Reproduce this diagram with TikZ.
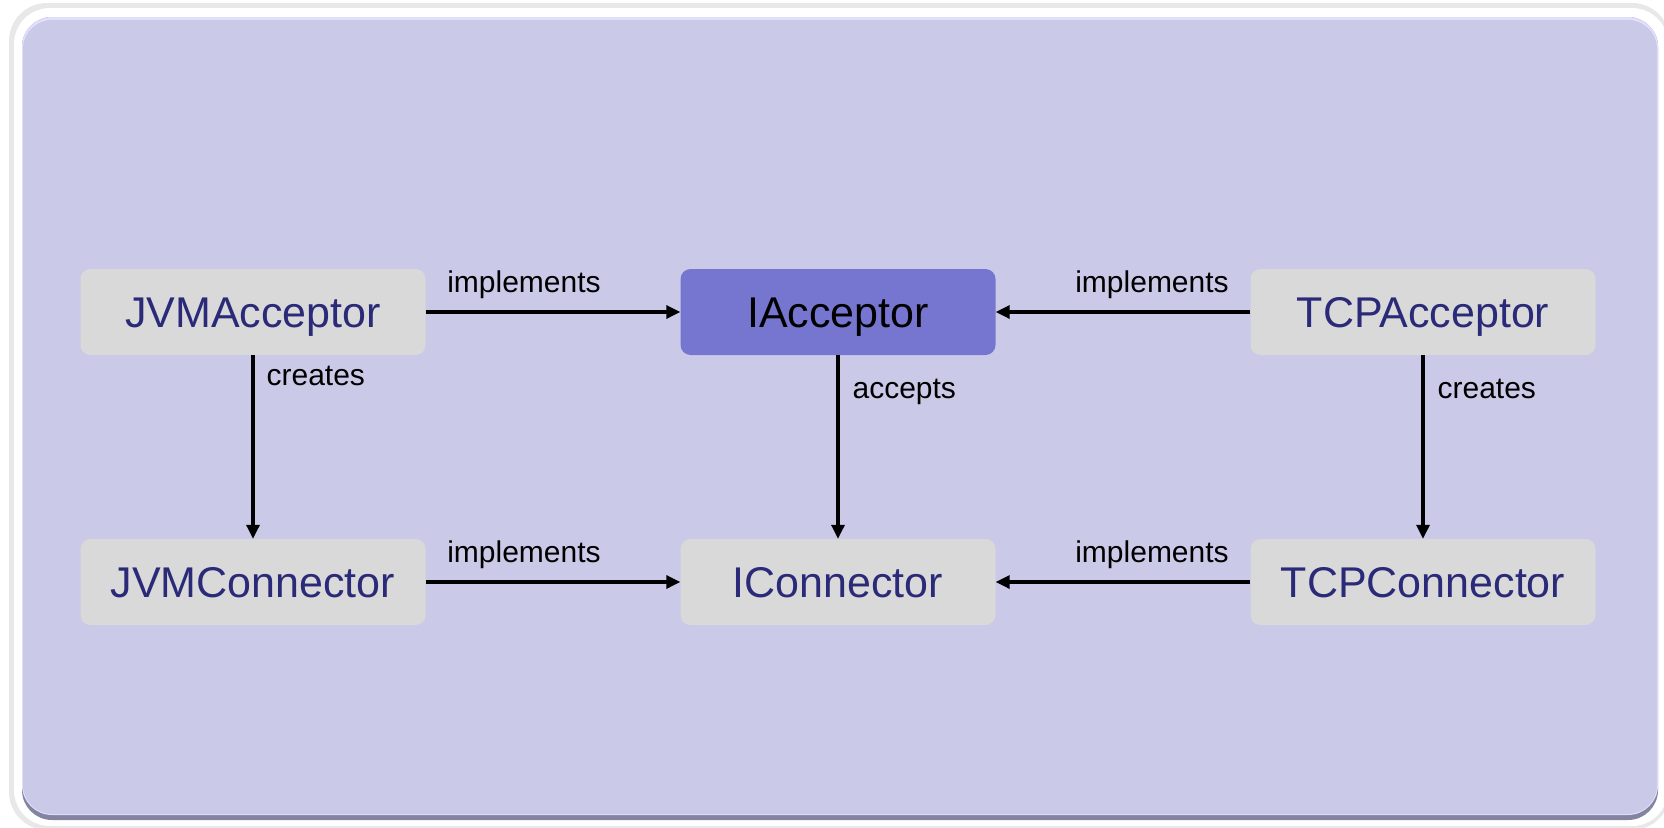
\documentclass[tikz,border=0pt]{standalone}
\usepackage{fontspec}
\setmainfont{Liberation Sans}
\usepackage{tikz}
\usetikzlibrary{arrows.meta}

\definecolor{panelfill}{RGB}{202,202,232}
\definecolor{paneldark}{RGB}{132,132,162}
\definecolor{panellight}{RGB}{224,224,250}
\definecolor{boxfill}{RGB}{217,217,217}
\definecolor{ifill}{RGB}{118,118,208}
\definecolor{boxtext}{RGB}{42,42,120}

\tikzset{
	classbox/.style={fill=boxfill, rounded corners=10pt, minimum width=345pt, minimum height=86pt, inner sep=0pt, text height=31pt, text depth=0pt, text=boxtext, font=\fontsize{43}{50}\selectfont},
	ibox/.style={classbox, minimum width=315pt},
	arr/.style={-{Triangle[length=14pt,width=13pt]}, line width=3.2pt},
	lbl/.style={inner sep=0pt, font=\fontsize{30}{36}\selectfont}
}

\begin{document}
\begin{tikzpicture}[x=1pt,y=-1pt]
		\useasboundingbox (0,0) rectangle (1664,827);
		% frame
		\fill[gray!18, rounded corners=38pt] (9,3) rectangle (1670,830);
		\fill[white, rounded corners=36pt] (14,8) rectangle (1668,826);
		\fill[paneldark, rounded corners=30pt] (22,17) rectangle (1658,820);
		\fill[panellight, rounded corners=30pt] (22,17) rectangle (1658,815);
		\fill[panelfill, rounded corners=29pt] (23,20) rectangle (1657,814);
		
		% classes
		\node[classbox] (jvmacc) at (253,312) {JVMAcceptor};
		\node[ibox, fill=ifill, text=black] (iacc) at (838,312) {IAcceptor};
		\node[classbox] (tcpacc) at (1423,312) {TCPAcceptor};
		\node[classbox] (jvmcon) at (253,582) {JVMConnector};
		\node[ibox] (icon) at (838,582) {IConnector};
		\node[classbox] (tcpcon) at (1423,582) {TCPConnector};
		
		% relations
		\draw[arr] (jvmacc) -- (iacc) node[lbl, pos=0, anchor=base west, xshift=20pt, yshift=20pt] (l1) {implements};
		\draw[arr] (tcpacc) -- (iacc) node[lbl, pos=0, anchor=base east, xshift=-20pt, yshift=20pt] (l2) {implements};
		\draw[arr] (jvmcon) -- (icon) node[lbl, pos=0, anchor=base west, xshift=20pt, yshift=20pt] (l3) {implements};
		\draw[arr] (tcpcon) -- (icon) node[lbl, pos=0, anchor=base east, xshift=-20pt, yshift=20pt] (l4) {implements};
		\draw[arr] (jvmacc) -- (jvmcon) node[lbl, pos=0, anchor=base west, xshift=12pt, yshift=-30pt] (l5) {creates};
		\draw[arr] (iacc) -- (icon) node[lbl, pos=0, anchor=base west, xshift=13pt, yshift=-43pt] (l6) {accepts};
		\draw[arr] (tcpacc) -- (tcpcon) node[lbl, pos=0, anchor=base west, xshift=13pt, yshift=-43pt] (l7) {creates};
		
		\end{tikzpicture}
\end{document}
